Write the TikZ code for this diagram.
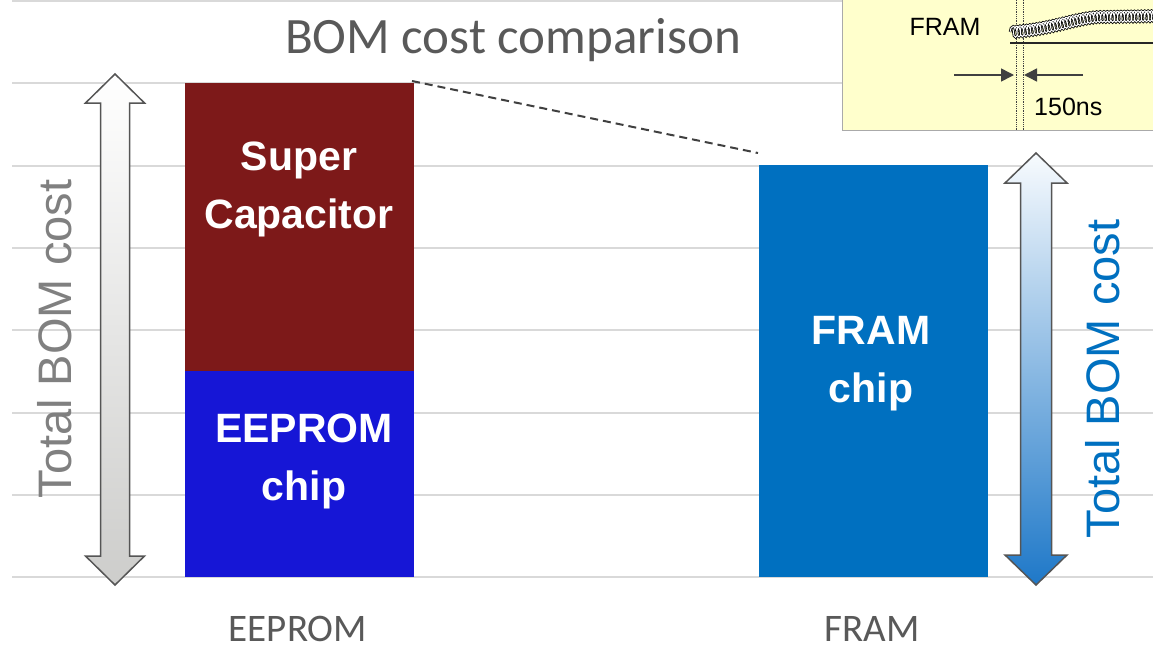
\documentclass[tikz,border=0pt]{standalone}
\usepackage{fontspec}
\setmainfont{Liberation Sans}
\newfontfamily\calib{Carlito}
\usetikzlibrary{arrows.meta,decorations.pathmorphing,calc}
\definecolor{gridc}{RGB}{217,217,217}
\definecolor{supred}{RGB}{125,25,25}
\definecolor{eepblue}{RGB}{22,22,214}
\definecolor{framblue}{RGB}{0,112,192}
\definecolor{txtgray}{RGB}{89,89,89}
\definecolor{axgray}{RGB}{128,128,128}
\definecolor{arrowedge}{RGB}{85,85,85}
\definecolor{insety}{RGB}{255,255,204}
\definecolor{insetb}{RGB}{170,170,170}
\definecolor{dark}{RGB}{64,64,64}
\tikzset{
  bar/.style={draw=none, inner sep=0pt, outer sep=0pt, anchor=north west, minimum width=229},
  bartext/.style={text=white, font=\bfseries\fontsize{41}{48}\selectfont, anchor=base, inner sep=0pt},
  catlabel/.style={text=txtgray, font=\calib\fontsize{39}{44}\selectfont, anchor=base, inner sep=0pt},
  axtext/.style={rotate=90, font=\fontsize{47}{50}\selectfont, inner sep=0pt},
  gridline/.style={draw=gridc, line width=2},
  blockarrow/.style={draw=arrowedge, line width=1.5},
  insettext/.style={text=black, font=\fontsize{25}{28}\selectfont, inner sep=0pt},
}
\begin{document}
\begin{tikzpicture}[x=1pt,y=-1pt]
\useasboundingbox (0,0) rectangle (1153,648);
\fill[white] (0,0) rectangle (1153,648);
% grid
\foreach \k in {0,...,7}{
  \draw[gridline] (12,{1+82.33*\k}) -- (1153,{1+82.33*\k});
}
% title
\node[text=txtgray, font=\calib\fontsize{51}{58}\selectfont, anchor=base, inner sep=0pt] (title) at (513,53) {BOM cost comparison};
% bars
\node[bar, fill=supred, minimum height=288] (super) at (185,83) {};
\node[bar, fill=eepblue, minimum height=206] (eeprom) at (185,371) {};
\node[bar, fill=framblue, minimum height=412] (fram) at (759,165) {};
% bar texts
\node[bartext] (t1) at (299,170) {Super};
\node[bartext] (t2) at (299,228) {Capacitor};
\node[bartext] (t3) at (304,442) {EEPROM};
\node[bartext] (t4) at (304,500) {chip};
\node[bartext] (t5) at (871,344) {FRAM};
\node[bartext] (t6) at (871,402) {chip};
% dashed connector
\draw[draw=dark, line width=2, dash pattern=on 8pt off 5pt] ($(super.north east)+(-2,-2)$) -- ($(fram.north west)+(-1,-12)$);
% category labels
\node[catlabel] (l1) at (298,641) {EEPROM};
\node[catlabel] (l2) at (872,641) {FRAM};
% left block arrow
\path[blockarrow, top color=white, bottom color={rgb,255:red,205;green,205;blue,203}]
  (115,74) -- (144.5,103) -- (129.5,103) -- (129.5,556) -- (144.5,556) -- (115,585)
  -- (85.5,556) -- (100.5,556) -- (100.5,103) -- (85.5,103) -- cycle;
% right block arrow
\path[blockarrow, top color={rgb,255:red,248;green,251;blue,254}, middle color={rgb,255:red,190;green,216;blue,238}, bottom color={rgb,255:red,30;green,120;blue,200}]
  (1036,153) -- (1067,183) -- (1051.5,183) -- (1051.5,555) -- (1067,555) -- (1036,585)
  -- (1005,555) -- (1020.5,555) -- (1020.5,183) -- (1005,183) -- cycle;
% axis texts
\node[axtext, text=axgray] (ax1) at (55,339) {Total BOM cost};
\node[axtext, text=framblue] (ax2) at (1103,379) {Total BOM cost};
% inset
\draw[fill=insety, draw=insetb, line width=1] (842,-2) rectangle (1155,130);
\node[insettext, anchor=base] (ifram) at (945,35) {FRAM};
\node[insettext, anchor=base west] (ins) at (1034,115) {150ns};
\draw[densely dotted, draw=dark, line width=0.8] (1016,-2) -- (1016,130);
\draw[densely dotted, draw=dark, line width=0.8] (1023,-2) -- (1023,130);
\draw[draw=black!85, line width=2.5] (1010,43) -- (1155,43);
\draw[draw=black, line width=2.6, decorate, decoration={coil, amplitude=5.5, segment length=3.4}]
  (1010,32) .. controls (1050,30) and (1075,18) .. (1100,17) -- (1160,16);
\draw[draw=white, line width=1.0, decorate, decoration={coil, amplitude=5.5, segment length=3.4}]
  (1010,32) .. controls (1050,30) and (1075,18) .. (1100,17) -- (1160,16);
\coordinate (la) at (954,75);
\coordinate (lt) at (1014,75);
\coordinate (ra) at (1083,75);
\coordinate (rt) at (1024,75);
\draw[draw=dark, line width=1.5, -{Triangle[length=13pt,width=13pt]}] (la) -- (lt);
\draw[draw=dark, line width=1.5, -{Triangle[length=13pt,width=13pt]}] (ra) -- (rt);
\end{tikzpicture}
\end{document}
